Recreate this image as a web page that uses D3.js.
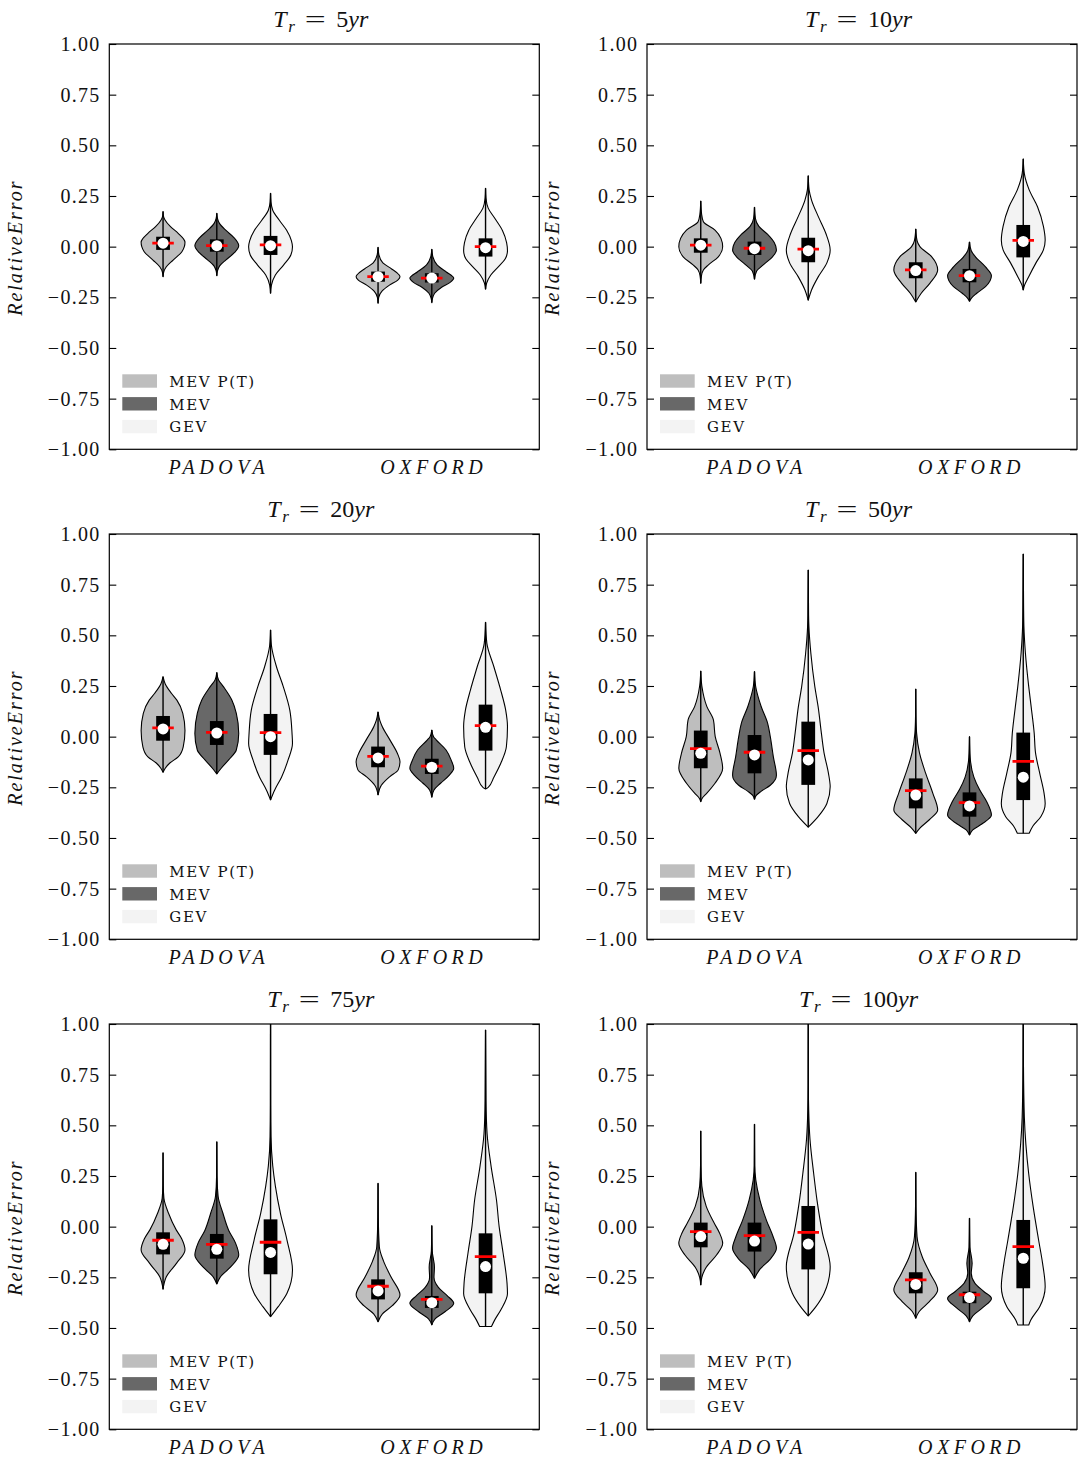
<!DOCTYPE html>
<html>
<head>
<meta charset="utf-8">
<script src="https://cdn.jsdelivr.net/npm/d3@7"></script>
<style>
  body { margin: 0; background: #fff; }
</style>
</head>
<body>
<svg id="chart" width="1078" height="1461"></svg>
<script>
// Relative error of the estimated return levels, per return period (panel),
// station (group) and model (violin).
const returnPeriods = [5, 10, 20, 50, 75, 100];
const stations = ["PADOVA", "OXFORD"];
const models = ["MEV P(T)", "MEV", "GEV"];
const modelColors = ["#bebebe", "#686868", "#f3f3f3"];
const yTickValues = [1, 0.75, 0.5, 0.25, 0, -0.25, -0.5, -0.75, -1];

// One row per return period; columns: PADOVA (MEV P(T), MEV, GEV), OXFORD (MEV P(T), MEV, GEV)
const upperQuartiles = [
  [0.049, 0.036, 0.053, -0.123, -0.131, 0.041],
  [0.041, 0.025, 0.044, -0.077, -0.110, 0.107],
  [0.102, 0.077, 0.112, -0.049, -0.109, 0.158],
  [0.030, 0.008, 0.074, -0.206, -0.275, 0.020],
  [-0.028, -0.036, 0.036, -0.260, -0.342, -0.033],
  [0.020, 0.020, 0.102, -0.225, -0.321, 0.033]
];
const lowerQuartiles = [
  [-0.016, -0.025, -0.041, -0.173, -0.177, -0.049],
  [-0.030, -0.041, -0.077, -0.156, -0.176, -0.053],
  [-0.020, -0.041, -0.090, -0.151, -0.184, -0.069],
  [-0.156, -0.181, -0.238, -0.354, -0.395, -0.313],
  [-0.137, -0.158, -0.235, -0.359, -0.401, -0.329],
  [-0.102, -0.123, -0.211, -0.329, -0.378, -0.304]
];
const medians = [
  [0.017, 0.005, 0.005, -0.148, -0.155, -0.005],
  [0.007, -0.010, -0.020, -0.118, -0.143, 0.026],
  [0.038, 0.018, 0.000, -0.105, -0.151, 0.046],
  [-0.082, -0.090, -0.115, -0.288, -0.342, -0.200],
  [-0.087, -0.112, -0.127, -0.317, -0.375, -0.197],
  [-0.049, -0.071, -0.086, -0.285, -0.350, -0.156]
];
const means = [
  [0.017, 0.005, 0.009, -0.148, -0.155, 0.000],
  [0.008, -0.008, -0.012, -0.115, -0.143, 0.031],
  [0.043, 0.021, 0.020, -0.097, -0.145, 0.054],
  [-0.059, -0.077, -0.069, -0.266, -0.326, -0.122],
  [-0.067, -0.087, -0.077, -0.294, -0.359, -0.148],
  [-0.025, -0.044, -0.028, -0.263, -0.336, -0.099]
];

// Density outlines: [relative error, width relative to the widest point], top to bottom.
// The first and last values are the sample extremes (whisker ends).
const densities = [
  [ // 5 yr
    [[0.173,0],[0.15,0.02],[0.132,0.09],[0.099,0.34],[0.066,0.69],[0.04,0.92],[0.022,1],[0,0.97],[-0.025,0.86],[-0.066,0.46],[-0.099,0.15],[-0.125,0.03],[-0.148,0]],
    [[0.165,0],[0.14,0.03],[0.115,0.12],[0.08,0.42],[0.045,0.78],[0.005,1],[-0.03,0.8],[-0.065,0.42],[-0.095,0.13],[-0.12,0.03],[-0.143,0]],
    [[0.263,0],[0.22,0.02],[0.18,0.1],[0.13,0.4],[0.08,0.74],[0.03,0.95],[0,1],[-0.04,0.93],[-0.09,0.6],[-0.14,0.22],[-0.19,0.04],[-0.23,0]],
    [[-0.003,0],[-0.04,0.04],[-0.08,0.22],[-0.11,0.62],[-0.135,0.92],[-0.148,1],[-0.165,0.9],[-0.19,0.52],[-0.22,0.18],[-0.25,0.03],[-0.279,0]],
    [[-0.013,0],[-0.05,0.05],[-0.09,0.24],[-0.125,0.66],[-0.145,0.93],[-0.155,1],[-0.175,0.85],[-0.2,0.45],[-0.23,0.13],[-0.255,0.03],[-0.276,0]],
    [[0.288,0],[0.24,0.02],[0.19,0.12],[0.14,0.42],[0.08,0.77],[0.02,0.96],[-0.02,1],[-0.06,0.9],[-0.1,0.58],[-0.14,0.24],[-0.18,0.05],[-0.21,0]]
  ],
  [ // 10 yr
    [[0.225,0],[0.16,0.04],[0.123,0.12],[0.082,0.65],[0.041,0.92],[0,1],[-0.05,0.8],[-0.09,0.35],[-0.115,0.12],[-0.145,0.03],[-0.181,0]],
    [[0.194,0],[0.14,0.04],[0.1,0.2],[0.06,0.6],[0.02,0.9],[-0.016,1],[-0.05,0.82],[-0.09,0.4],[-0.12,0.1],[-0.161,0]],
    [[0.35,0],[0.28,0.04],[0.23,0.15],[0.148,0.46],[0.066,0.8],[-0.016,1],[-0.08,0.85],[-0.148,0.46],[-0.214,0.15],[-0.264,0]],
    [[0.087,0],[0.03,0.06],[0,0.19],[-0.05,0.73],[-0.115,1],[-0.18,0.65],[-0.23,0.25],[-0.273,0]],
    [[0.023,0],[-0.02,0.08],[-0.05,0.27],[-0.1,0.73],[-0.143,1],[-0.197,0.73],[-0.23,0.33],[-0.255,0.08],[-0.27,0]],
    [[0.433,0],[0.36,0.05],[0.28,0.27],[0.197,0.65],[0.1,0.92],[0.033,1],[-0.016,0.92],[-0.08,0.58],[-0.148,0.25],[-0.19,0.06],[-0.214,0]]
  ],
  [ // 20 yr
    [[0.296,0],[0.26,0.1],[0.214,0.38],[0.18,0.63],[0.115,0.9],[0.03,1],[-0.05,0.92],[-0.1,0.69],[-0.13,0.31],[-0.156,0.1],[-0.176,0]],
    [[0.316,0],[0.28,0.08],[0.247,0.3],[0.18,0.69],[0.115,0.89],[0.016,1],[-0.066,0.89],[-0.115,0.54],[-0.156,0.2],[-0.184,0]],
    [[0.526,0],[0.45,0.04],[0.345,0.27],[0.247,0.58],[0.13,0.88],[0.016,0.98],[-0.033,1],[-0.115,0.8],[-0.2,0.5],[-0.263,0.19],[-0.312,0]],
    [[0.122,0],[0.08,0.08],[0.05,0.19],[-0.016,0.54],[-0.082,0.88],[-0.123,1],[-0.164,0.92],[-0.197,0.54],[-0.24,0.15],[-0.288,0]],
    [[0.033,0],[0,0.08],[-0.016,0.2],[-0.066,0.65],[-0.115,0.88],[-0.156,1],[-0.19,0.8],[-0.23,0.4],[-0.263,0.1],[-0.299,0]],
    [[0.564,0],[0.46,0.06],[0.345,0.38],[0.23,0.69],[0.13,0.92],[0.05,1],[-0.05,0.95],[-0.13,0.7],[-0.2,0.38],[-0.25,0.12],[-0.258,0]]
  ],
  [ // 50 yr
    [[0.324,0],[0.25,0.05],[0.148,0.28],[0.082,0.58],[0,0.66],[-0.082,0.88],[-0.156,1],[-0.23,0.65],[-0.28,0.27],[-0.305,0.06],[-0.321,0]],
    [[0.321,0],[0.25,0.05],[0.15,0.3],[0.066,0.6],[0,0.72],[-0.1,0.86],[-0.19,1],[-0.24,0.72],[-0.27,0.3],[-0.29,0.08],[-0.309,0]],
    [[0.822,0],[0.6,0.015],[0.543,0.03],[0.41,0.12],[0.247,0.3],[0.148,0.45],[0.016,0.6],[-0.08,0.72],[-0.18,0.92],[-0.247,1],[-0.33,0.85],[-0.395,0.45],[-0.447,0]],
    [[0.235,0],[0.1,0.01],[0.016,0.04],[-0.08,0.17],[-0.18,0.45],[-0.28,0.78],[-0.362,1],[-0.41,0.62],[-0.45,0.2],[-0.477,0]],
    [[0,0],[-0.1,0.03],[-0.2,0.2],[-0.26,0.45],[-0.32,0.78],[-0.387,1],[-0.43,0.58],[-0.46,0.15],[-0.485,0]],
    [[0.901,0],[0.65,0.015],[0.543,0.03],[0.41,0.1],[0.247,0.25],[0.148,0.36],[0.016,0.5],[-0.08,0.56],[-0.18,0.75],[-0.28,0.95],[-0.33,1],[-0.395,0.8],[-0.44,0.45],[-0.477,0.27]]
  ],
  [ // 75 yr
    [[0.365,0],[0.2,0.01],[0.14,0.04],[0.066,0.25],[-0.016,0.6],[-0.06,0.85],[-0.115,1],[-0.18,0.62],[-0.247,0.15],[-0.309,0]],
    [[0.419,0],[0.25,0.01],[0.15,0.06],[0.066,0.28],[-0.02,0.55],[-0.08,0.85],[-0.14,1],[-0.2,0.62],[-0.25,0.15],[-0.283,0]],
    [[1.1,0],[0.6,0.005],[0.444,0.02],[0.3,0.1],[0.2,0.22],[0.066,0.45],[-0.066,0.75],[-0.214,1],[-0.329,0.75],[-0.395,0.35],[-0.444,0]],
    [[0.214,0],[0.05,0.01],[-0.1,0.06],[-0.17,0.25],[-0.25,0.6],[-0.337,1],[-0.39,0.65],[-0.43,0.2],[-0.469,0]],
    [[0.005,0],[-0.12,0.02],[-0.2,0.12],[-0.25,0.1],[-0.3,0.3],[-0.34,0.7],[-0.378,1],[-0.42,0.6],[-0.455,0.15],[-0.485,0]],
    [[0.97,0],[0.625,0.02],[0.46,0.07],[0.3,0.25],[0.13,0.5],[0,0.62],[-0.13,0.8],[-0.28,0.98],[-0.33,1],[-0.41,0.7],[-0.46,0.42],[-0.493,0.27]]
  ],
  [ // 100 yr
    [[0.472,0],[0.3,0.01],[0.2,0.05],[0.1,0.25],[0.02,0.6],[-0.03,0.85],[-0.082,1],[-0.14,0.72],[-0.2,0.25],[-0.25,0.05],[-0.288,0]],
    [[0.505,0],[0.3,0.01],[0.23,0.06],[0.13,0.25],[0.03,0.55],[-0.05,0.85],[-0.107,1],[-0.16,0.72],[-0.21,0.25],[-0.255,0]],
    [[1.1,0],[0.7,0.005],[0.576,0.02],[0.43,0.08],[0.26,0.25],[0.13,0.4],[-0.033,0.65],[-0.197,1],[-0.33,0.72],[-0.395,0.35],[-0.441,0]],
    [[0.268,0],[0.1,0.01],[-0.05,0.06],[-0.15,0.3],[-0.23,0.65],[-0.312,1],[-0.37,0.62],[-0.42,0.15],[-0.452,0]],
    [[0.041,0],[-0.1,0.02],[-0.18,0.12],[-0.23,0.08],[-0.28,0.25],[-0.32,0.65],[-0.354,1],[-0.4,0.6],[-0.44,0.15],[-0.469,0]],
    [[1.1,0],[0.8,0.01],[0.54,0.05],[0.26,0.25],[0.1,0.45],[-0.066,0.7],[-0.18,0.88],[-0.296,1],[-0.395,0.75],[-0.46,0.35],[-0.485,0.25]]
  ]
];

// ---- layout ----
const serif = "'Liberation Serif', 'DejaVu Serif', serif";
const svg = d3.select("#chart").style("font-family", serif);
const axW = 430, axH = 405.3;
const colLeft = [109.3, 647];
const rowTop = [44, 534, 1024];
const modelOffsets = [-0.25, 0, 0.25];
const halfViolin = 0.102;   // in category units
const halfBox = 0.032;
const halfDash = 0.05;

const x = d3.scaleLinear().domain([-0.5, 1.5]).range([0, axW]);
const y = d3.scaleLinear().domain([-1, 1]).range([axH, 0]);

returnPeriods.forEach((tr, p) => {
  const col = p % 2, row = Math.floor(p / 2);
  const g = svg.append("g").attr("transform", `translate(${colLeft[col]},${rowTop[row]})`);

  g.append("clipPath").attr("id", `clip${p}`)
    .append("rect").attr("width", axW).attr("height", axH);

  const plot = g.append("g").attr("clip-path", `url(#clip${p})`);

  stations.forEach((st, s) => {
    models.forEach((m, k) => {
      const idx = s * 3 + k;
      const cx = s + modelOffsets[k];
      const prof = densities[p][idx];
      const ext = d3.extent(prof, d => d[0]);

      const area = d3.area()
        .y(d => y(d[0]))
        .x0(d => x(cx - halfViolin * d[1]))
        .x1(d => x(cx + halfViolin * d[1]))
        .curve(d3.curveMonotoneY);

      plot.append("path")
        .attr("d", area(prof))
        .attr("fill", modelColors[k])
        .attr("stroke", "#000")
        .attr("stroke-width", 1.1)
        .attr("stroke-linejoin", "round");

      plot.append("line")
        .attr("x1", x(cx)).attr("x2", x(cx))
        .attr("y1", y(ext[0])).attr("y2", y(ext[1]))
        .attr("stroke", "#000").attr("stroke-width", 1.4);

      plot.append("rect")
        .attr("x", x(cx - halfBox))
        .attr("width", x(cx + halfBox) - x(cx - halfBox))
        .attr("y", y(upperQuartiles[p][idx]))
        .attr("height", y(lowerQuartiles[p][idx]) - y(upperQuartiles[p][idx]))
        .attr("fill", "#000");

      plot.append("line")
        .attr("x1", x(cx - halfDash)).attr("x2", x(cx + halfDash))
        .attr("y1", y(means[p][idx])).attr("y2", y(means[p][idx]))
        .attr("stroke", "#ff0000").attr("stroke-width", 2.8);

      plot.append("circle")
        .attr("cx", x(cx)).attr("cy", y(medians[p][idx]))
        .attr("r", 5.5).attr("fill", "#fff");
    });
  });

  // frame
  g.append("rect").attr("width", axW).attr("height", axH)
    .attr("fill", "none").attr("stroke", "#000").attr("stroke-width", 1.2);

  // y axis (ticks pointing inward on both sides)
  const left = g.append("g").call(
    d3.axisLeft(y).tickValues(yTickValues).tickSize(-7).tickSizeOuter(0)
      .tickPadding(10).tickFormat(d3.format(".2f")));
  left.attr("font-family", null).attr("font-size", null);
  left.select(".domain").remove();
  left.selectAll("line").attr("stroke", "#000").attr("stroke-width", 1.1);
  left.selectAll("text")
    .style("font-family", serif).style("font-size", "20px")
    .attr("letter-spacing", "1.3px").attr("dx", "1.3px").attr("fill", "#111");

  const right = g.append("g").attr("transform", `translate(${axW},0)`).call(
    d3.axisRight(y).tickValues(yTickValues).tickSize(-7).tickSizeOuter(0).tickFormat(""));
  right.select(".domain").remove();
  right.selectAll("line").attr("stroke", "#000").attr("stroke-width", 1.1);

  // station labels
  stations.forEach((st, s) => {
    g.append("text")
      .attr("x", x(s) + 2).attr("y", axH + 25)
      .attr("text-anchor", "middle")
      .style("font-style", "italic").style("font-size", "20px")
      .attr("letter-spacing", "4.5px").attr("fill", "#111")
      .text(st);
  });

  // y label
  g.append("text")
    .attr("transform", `translate(${-87.6},${axH / 2 + 1}) rotate(-90)`)
    .attr("text-anchor", "middle")
    .style("font-style", "italic").style("font-size", "20px")
    .attr("letter-spacing", "2px").attr("fill", "#111")
    .text("RelativeError");

  // title: T_r = <period> yr, centred on the axes
  const num = String(tr);
  const c = axW / 2 - (num.length - 1) * 6;
  const tg = g.append("g").attr("fill", "#111").style("font-size", "24px");
  const t = tg.append("text").attr("y", -17);
  t.append("tspan").attr("x", c - 51).style("font-style", "italic").text("T");
  t.append("tspan").attr("x", c - 36).attr("dy", 5).style("font-style", "italic").style("font-size", "17px").text("r");
  tg.append("text")
    .attr("transform", `translate(${c - 9},-17) scale(1.55,1)`)
    .attr("text-anchor", "middle").text("=");
  const t2 = tg.append("text").attr("x", c + 12).attr("y", -17);
  t2.append("tspan").text(num);
  t2.append("tspan").style("font-style", "italic").text("yr");

  // legend
  const leg = g.append("g").attr("transform", `translate(13,${axH - 75})`);
  models.forEach((m, k) => {
    leg.append("rect")
      .attr("x", 0).attr("y", k * 22.8)
      .attr("width", 34.7).attr("height", 13.4)
      .attr("fill", modelColors[k]);
    leg.append("text")
      .attr("x", 47).attr("y", k * 22.8 + 12.5)
      .style("font-family", "'DejaVu Serif', serif").style("font-size", "15px")
      .attr("letter-spacing", "1.6px").attr("fill", "#111")
      .text(m);
  });
});
</script>
</body>
</html>
